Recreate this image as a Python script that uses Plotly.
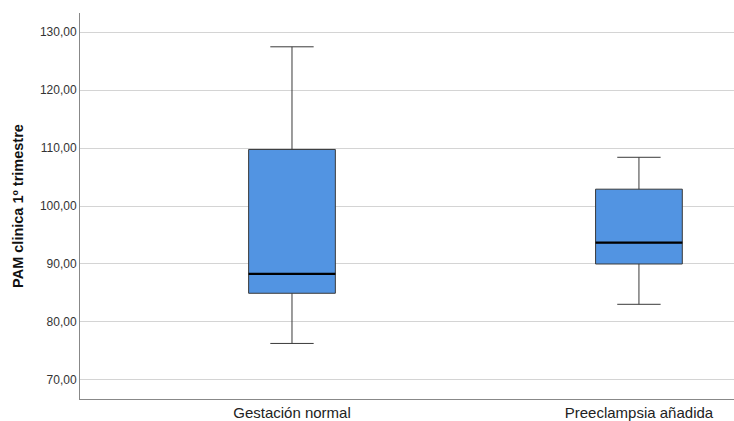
import plotly.graph_objects as go

categories = ["Gestación normal", "Preeclampsia añadida"]
lower_whisker = [76.3, 83.05]
q1 = [84.95, 90.0]
median = [88.28, 93.67]
q3 = [109.75, 102.9]
upper_whisker = [127.45, 108.4]
yticks = [70, 80, 90, 100, 110, 120, 130]

xpos = list(range(len(categories)))
box_w = 0.25

fig = go.Figure()
fig.add_trace(go.Box(
    x=xpos, q1=q1, median=median, q3=q3,
    lowerfence=lower_whisker, upperfence=upper_whisker,
    width=box_w, whiskerwidth=0.5,
    fillcolor="#5294E2", line=dict(color="#3a3a3a", width=1),
    boxpoints=False, showlegend=False, hoverinfo="skip",
))
for i, m in zip(xpos, median):
    fig.add_trace(go.Scatter(
        x=[i - box_w / 2, i + box_w / 2], y=[m, m], mode="lines",
        line=dict(color="#000000", width=2.2), showlegend=False, hoverinfo="skip",
    ))

fig.update_layout(
    width=734, height=421,
    margin=dict(l=80, r=0, t=13, b=22),
    paper_bgcolor="white", plot_bgcolor="white",
    separators=",.",
    font=dict(family="Liberation Sans, Arial, sans-serif", color="#222"),
    xaxis=dict(
        range=[-0.611, 1.274], tickvals=xpos, ticktext=categories,
        showgrid=False, zeroline=False, showline=True, linecolor="#888",
        linewidth=1, tickfont=dict(size=15, color="#222"), ticks="",
    ),
    yaxis=dict(
        range=[66.72, 133.28], tickvals=yticks, tickformat=".2f",
        showgrid=True, gridcolor="#d4d4d4", gridwidth=1, zeroline=False,
        showline=True, linecolor="#888", linewidth=1,
        tickfont=dict(size=12, color="#333"), ticks="",
        title=dict(text="<b>PAM clinica 1º trimestre</b>", font=dict(size=14.5, color="#111"), standoff=12),
    ),
)

fig.write_html("out.html", config={"displayModeBar": False},
               post_script="document.body.style.margin='0';document.body.style.overflow='hidden';")
